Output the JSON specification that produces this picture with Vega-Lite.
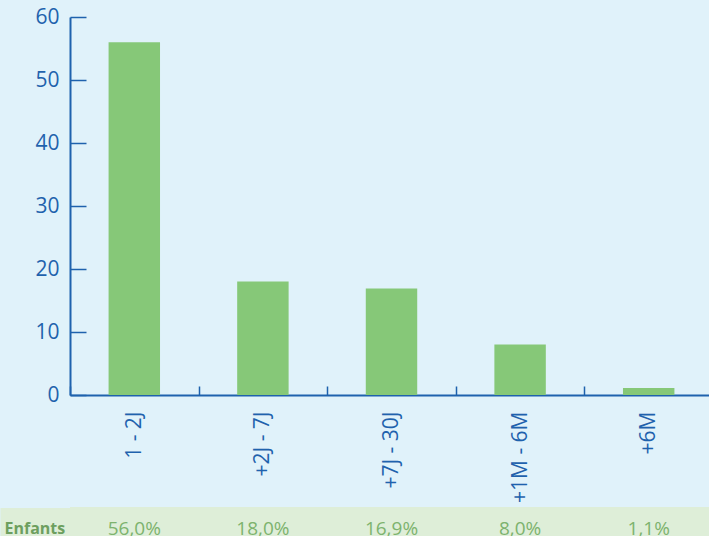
{
  "$schema": "https://vega.github.io/schema/vega-lite/v6.json",
  "autosize": {"type": "pad"},
  "padding": {"left": -7, "top": 6, "right": 0, "bottom": 0},
  "background": "#e0f2fa",
  "config": {"font": "Open Sans", "view": {"stroke": null}},
  "datasets": {
    "d": [
      {"age": "1 - 2J", "value": 56, "pct": "56,0%", "row": "Enfants"},
      {"age": "+2J - 7J", "value": 18, "pct": "18,0%", "row": "Enfants"},
      {"age": "+7J - 30J", "value": 16.9, "pct": "16,9%", "row": "Enfants"},
      {"age": "+1M - 6M", "value": 8, "pct": "8,0%", "row": "Enfants"},
      {"age": "+6M", "value": 1.1, "pct": "1,1%", "row": "Enfants"}
    ]
  },
  "spacing": 112,
  "bounds": "flush",
  "resolve": {"scale": {"x": "independent"}},
  "vconcat": [
    {
      "width": 643,
      "height": 378,
      "data": {"name": "d"},
      "mark": {"type": "bar", "color": "#86c878", "width": {"band": 0.4}},
      "encoding": {
        "x": {
          "field": "age", "type": "nominal", "sort": null,
          "scale": {"paddingInner": 0, "paddingOuter": 0},
          "axis": {
            "title": null, "labelAngle": -90, "labelFontSize": 21, "labelColor": "#1f62ad",
            "labelPadding": 25, "tickBand": "extent", "tickSize": -9, "tickColor": "#1f62ad",
            "tickWidth": 1.5, "domainColor": "#1f62ad", "domainWidth": 2, "grid": false
          }
        },
        "y": {
          "field": "value", "type": "quantitative",
          "scale": {"domain": [0, 60], "nice": false},
          "axis": {
            "title": null, "values": [0, 10, 20, 30, 40, 50, 60], "labelFontSize": 21,
            "labelColor": "#1f62ad", "labelPadding": 27, "tickSize": -16, "tickColor": "#1f62ad",
            "tickWidth": 1.5, "domainColor": "#1f62ad", "domainWidth": 2, "grid": false
          }
        }
      }
    },
    {
      "width": 643,
      "height": 29,
      "view": {"fill": "#deeed8", "stroke": null},
      "data": {"name": "d"},
      "mark": {"type": "text", "fontSize": 19, "color": "#7db36e", "dy": 7},
      "encoding": {
        "x": {
          "field": "age", "type": "nominal", "sort": null,
          "scale": {"paddingInner": 0, "paddingOuter": 0},
          "axis": null
        },
        "y": {
          "field": "row", "type": "nominal",
          "scale": {"paddingInner": 0, "paddingOuter": 0},
          "axis": {
            "title": null, "domain": false, "tickColor": "#deeed8", "tickWidth": 29, "tickSize": 55.5,
            "tickCap": "square",
            "labelAlign": "left", "labelPadding": 10.5, "labelFontWeight": "bold", "labelFontSize": 16,
            "labelColor": "#6d9f5f", "labelBaseline": "middle", "labelOffset": 7
          }
        },
        "text": {"field": "pct"}
      }
    }
  ]
}
